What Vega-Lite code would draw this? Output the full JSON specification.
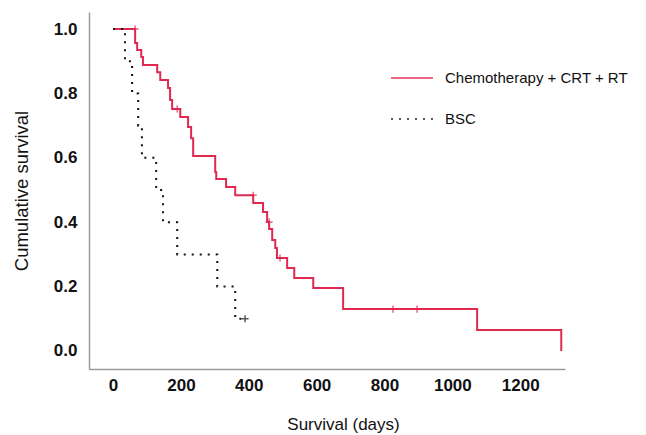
{
  "$schema": "https://vega.github.io/schema/vega-lite/v6.json",
  "width": 476,
  "height": 357,
  "autosize": {"type": "none"},
  "padding": {"left": 89, "top": 12, "right": 81, "bottom": 66},
  "background": "white",
  "config": {
    "font": "Liberation Sans",
    "view": {"stroke": null},
    "axis": {"grid": false, "ticks": false, "domainColor": "#9a9a9a", "domainWidth": 1.5, "labelColor": "#111", "titleColor": "#111", "labelFont": "Liberation Sans", "titleFont": "Liberation Sans"}
  },
  "datasets": {
    "curves": [
      {"group": "Chemotherapy + CRT + RT", "day": 0, "surv": 1.0},
      {"group": "Chemotherapy + CRT + RT", "day": 65, "surv": 0.957},
      {"group": "Chemotherapy + CRT + RT", "day": 71, "surv": 0.935},
      {"group": "Chemotherapy + CRT + RT", "day": 83, "surv": 0.913},
      {"group": "Chemotherapy + CRT + RT", "day": 88, "surv": 0.888},
      {"group": "Chemotherapy + CRT + RT", "day": 130, "surv": 0.866},
      {"group": "Chemotherapy + CRT + RT", "day": 139, "surv": 0.842},
      {"group": "Chemotherapy + CRT + RT", "day": 162, "surv": 0.817},
      {"group": "Chemotherapy + CRT + RT", "day": 168, "surv": 0.780},
      {"group": "Chemotherapy + CRT + RT", "day": 174, "surv": 0.752},
      {"group": "Chemotherapy + CRT + RT", "day": 198, "surv": 0.727},
      {"group": "Chemotherapy + CRT + RT", "day": 221, "surv": 0.696},
      {"group": "Chemotherapy + CRT + RT", "day": 230, "surv": 0.661},
      {"group": "Chemotherapy + CRT + RT", "day": 236, "surv": 0.606},
      {"group": "Chemotherapy + CRT + RT", "day": 301, "surv": 0.556},
      {"group": "Chemotherapy + CRT + RT", "day": 304, "surv": 0.534},
      {"group": "Chemotherapy + CRT + RT", "day": 333, "surv": 0.509},
      {"group": "Chemotherapy + CRT + RT", "day": 360, "surv": 0.484},
      {"group": "Chemotherapy + CRT + RT", "day": 413, "surv": 0.460},
      {"group": "Chemotherapy + CRT + RT", "day": 442, "surv": 0.432},
      {"group": "Chemotherapy + CRT + RT", "day": 454, "surv": 0.401},
      {"group": "Chemotherapy + CRT + RT", "day": 460, "surv": 0.379},
      {"group": "Chemotherapy + CRT + RT", "day": 469, "surv": 0.345},
      {"group": "Chemotherapy + CRT + RT", "day": 478, "surv": 0.320},
      {"group": "Chemotherapy + CRT + RT", "day": 483, "surv": 0.289},
      {"group": "Chemotherapy + CRT + RT", "day": 513, "surv": 0.258},
      {"group": "Chemotherapy + CRT + RT", "day": 534, "surv": 0.227},
      {"group": "Chemotherapy + CRT + RT", "day": 590, "surv": 0.196},
      {"group": "Chemotherapy + CRT + RT", "day": 678, "surv": 0.130},
      {"group": "Chemotherapy + CRT + RT", "day": 1073, "surv": 0.065},
      {"group": "Chemotherapy + CRT + RT", "day": 1321, "surv": 0.0},
      {"group": "BSC", "day": 0, "surv": 1.0},
      {"group": "BSC", "day": 35, "surv": 0.9},
      {"group": "BSC", "day": 56, "surv": 0.8},
      {"group": "BSC", "day": 74, "surv": 0.7},
      {"group": "BSC", "day": 85, "surv": 0.6},
      {"group": "BSC", "day": 127, "surv": 0.5},
      {"group": "BSC", "day": 147, "surv": 0.4},
      {"group": "BSC", "day": 189, "surv": 0.3},
      {"group": "BSC", "day": 307, "surv": 0.2},
      {"group": "BSC", "day": 360, "surv": 0.1},
      {"group": "BSC", "day": 389, "surv": 0.1}
    ],
    "censors": [
      {"group": "Chemotherapy + CRT + RT", "day": 65, "surv": 1.0},
      {"group": "Chemotherapy + CRT + RT", "day": 189, "surv": 0.752},
      {"group": "Chemotherapy + CRT + RT", "day": 413, "surv": 0.484},
      {"group": "Chemotherapy + CRT + RT", "day": 460, "surv": 0.401},
      {"group": "Chemotherapy + CRT + RT", "day": 492, "surv": 0.289},
      {"group": "Chemotherapy + CRT + RT", "day": 825, "surv": 0.130},
      {"group": "Chemotherapy + CRT + RT", "day": 896, "surv": 0.130},
      {"group": "BSC", "day": 389, "surv": 0.1}
    ]
  },
  "layer": [
    {
      "data": {"name": "curves"},
      "mark": {"type": "line", "interpolate": "step-after", "strokeWidth": 2},
      "encoding": {
        "x": {"field": "day", "type": "quantitative", "scale": {"domain": [-71, 1332], "nice": false, "zero": false},
              "axis": {"values": [0, 200, 400, 600, 800, 1000, 1200], "format": "d", "title": "Survival (days)", "labelFontSize": 17, "labelFontWeight": "bold", "labelPadding": 8, "titleFontSize": 17, "titleFontWeight": "normal", "titlePadding": 23, "titleX": 254, "titleAlign": "center", "titleAnchor": null}},
        "y": {"field": "surv", "type": "quantitative", "scale": {"domain": [-0.056, 1.053], "nice": false, "zero": false},
              "axis": {"values": [0, 0.2, 0.4, 0.6, 0.8, 1.0], "format": ".1f", "title": "Cumulative survival", "labelFontSize": 17, "labelFontWeight": "bold", "labelPadding": 12, "titleFontSize": 18.5, "titleFontWeight": "normal", "titlePadding": 22}},
        "color": {"field": "group", "type": "nominal",
                  "scale": {"domain": ["Chemotherapy + CRT + RT", "BSC"], "range": ["#e0294f", "#111111"]},
                  "legend": {"title": null, "orient": "none", "legendX": 301, "legendY": 44, "symbolType": "stroke", "symbolSize": 1764, "symbolStrokeWidth": 2, "labelFontSize": 15, "labelFont": "Liberation Sans", "labelColor": "#111", "labelOffset": 11, "labelLimit": 400, "rowPadding": 11}},
        "strokeDash": {"field": "group", "type": "nominal",
                       "scale": {"domain": ["Chemotherapy + CRT + RT", "BSC"], "range": [[1, 0], [2, 6]]},
                       "legend": {"title": null, "orient": "none", "legendX": 301, "legendY": 44, "symbolType": "stroke", "symbolSize": 1764, "symbolStrokeWidth": 2, "labelFontSize": 15, "labelFont": "Liberation Sans", "labelColor": "#111", "labelOffset": 11, "labelLimit": 400, "rowPadding": 11}}
      }
    },
    {
      "data": {"name": "censors"},
      "mark": {"type": "point", "shape": "M0,-1L0,1M-1,0L1,0", "filled": false, "strokeWidth": 1.5, "size": 50},
      "encoding": {
        "x": {"field": "day", "type": "quantitative"},
        "y": {"field": "surv", "type": "quantitative"},
        "color": {"field": "group", "type": "nominal"}
      }
    }
  ]
}
